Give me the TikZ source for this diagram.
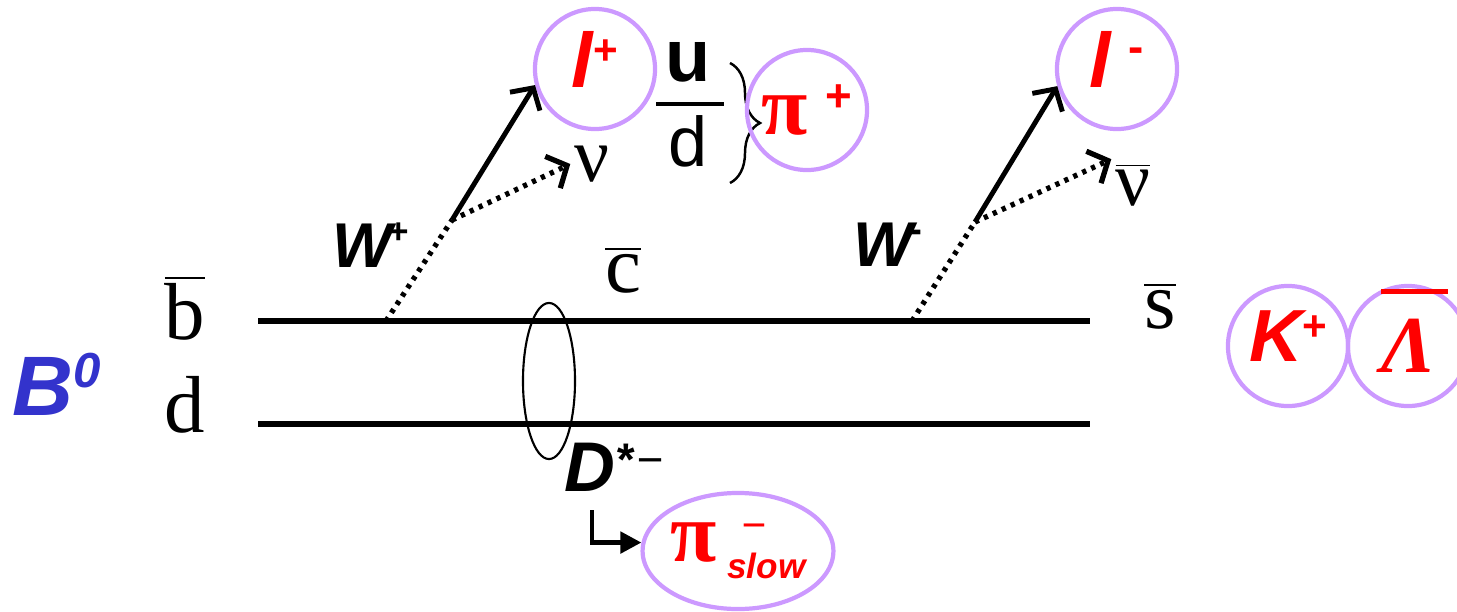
\documentclass[tikz,border=0pt]{standalone}
\usepackage{fontspec}
\setmainfont{Liberation Serif}
\setsansfont{Liberation Sans}
\usetikzlibrary{arrows.meta,shapes.geometric,decorations.pathreplacing}
\definecolor{lilac}{RGB}{204,153,255}
\definecolor{bblue}{RGB}{51,51,204}
\newcommand{\fs}[1]{\fontsize{#1}{#1}\selectfont}

\begin{document}
\begin{tikzpicture}[x=0.01cm,y=0.01cm,
  ring/.style={draw=lilac, line width=1.2pt, circle, minimum size=1.2cm, inner sep=0pt, text=red},
  ringup/.style={ring, text depth=0.2cm},
  qk/.style={line width=1.5pt},
  wb/.style={line width=1.5pt, dash pattern=on 1.2pt off 1.6pt},
  lep/.style={line width=1.4pt, -{Straight Barb[length=4.5pt,width=10pt]}},
  nuarr/.style={wb, -{Straight Barb[length=4.5pt,width=10pt]}},
  sfb/.style={font=\sffamily\bfseries\itshape\fs{#1}},
  rmq/.style={font=\fs{23}, inner sep=1pt}]
  \useasboundingbox (0,0) rectangle (1457,611);
  % quark lines
  \coordinate (bL) at (258,290);
  \coordinate (bR) at (1090,290);
  \coordinate (dL) at (258,187);
  \coordinate (dR) at (1090,187);
  \draw[qk] (bL) -- (bR);
  \draw[qk] (dL) -- (dR);
  \node[font=\sffamily\bfseries\itshape\fs{24}, text=bblue] (B0) at (57,227) {B\raisebox{8pt}{\fs{14}0}};
  \node[rmq] (qb) at (185,303) {$\overline{\mbox{b}}$};
  \node[rmq] (qd) at (185,206) {d};
  \node[rmq] (qc) at (623,341) {$\overline{\mbox{c}}$};
  \node[rmq] (qs) at (1160,305) {$\overline{\mbox{s}}$};
  % D* meson
  \node[draw, ellipse, line width=0.6pt, minimum width=0.52cm, minimum height=1.56cm, inner sep=0pt] (Dm) at (549,230) {};
  \node[sfb=20] (Dst) at (614,144) {D\raisebox{4.5pt}{\fs{13}*\kern1pt\mdseries−}};
  \node[draw=lilac, line width=1.2pt, ellipse, minimum width=1.56cm, minimum height=1.16cm, inner sep=0pt, text=red] (pis) at (738,60)
    {\rmfamily\bfseries\fs{24}π\kern3pt\raisebox{-5pt}{\sffamily\bfseries\itshape\shortstack[l]{\kern4pt\fs{12}\mdseries−\\[1pt]\fs{10}slow}}};
  \coordinate (dturn) at (592,101);
  \draw[line width=1.4pt, -{Triangle[length=6pt,width=6pt]}] (dturn) |- (pis.175);
  % W+ vertex
  \coordinate (wp) at (386,290);
  \coordinate (wpv) at (452,391);
  \draw[wb] (wp) -- (wpv);
  \node[sfb=18] (Wp) at (371,366) {W\kern-1pt\raisebox{7pt}{\fs{10}\upshape +}};
  \node[ringup, sfb=22] (lp) at (595,542) {l\raisebox{6.5pt}{\fs{12}\upshape +}};
  \node[inner sep=1pt, font=\fs{22}] (nu) at (592,447) {ν};
  \draw[lep] (wpv) -- (lp.195);
  \draw[nuarr] (wpv) -- (nu.west);
  % u dbar pair
  \node[font=\sffamily\bfseries\fs{21}] (qu) at (688,549) {u};
  \node[font=\sffamily\fs{20}] (qdb) at (688,470) {d};
  \draw[line width=1.2pt] (656,507) -- (724,507);
  \draw[decorate, decoration={brace, amplitude=0.3cm}, line width=0.7pt] (730,548) -- (730,428);
  \node[ring] (pip) at (807,501) {\rmfamily\bfseries\fs{24}π\kern5pt\raisebox{6.5pt}{\sffamily\bfseries\fs{13}+}};
  % W- vertex
  \coordinate (wm) at (912,290);
  \coordinate (wmv) at (975,389);
  \draw[wb] (wm) -- (wmv);
  \node[sfb=18] (Wm) at (888,366) {W\kern-1pt\raisebox{7pt}{\fs{11}\upshape -}};
  \node[ringup, sfb=22] (lm) at (1117,542) {l\hspace{5pt}\raisebox{7pt}{\fs{13}\upshape -}};
  \node[inner sep=1pt, font=\fs{22}] (nub) at (1133,426) {$\overline{\mbox{ν}}$};
  \draw[lep] (wmv) -- (lm.196);
  \draw[nuarr] (wmv) -- (nub.north west);
  % final hadrons
  \node[ringup, sfb=21] (Kp) at (1288,265) {K\raisebox{6pt}{\fs{12}\upshape +}};
  \node[ring, font=\bfseries\itshape\fs{23}] (Lam) at (1408,265)
    {\makebox[0pt][l]{\smash{\raisebox{22.5pt}{\rule{19pt}{1.2pt}}}}Λ};
\end{tikzpicture}
\end{document}
